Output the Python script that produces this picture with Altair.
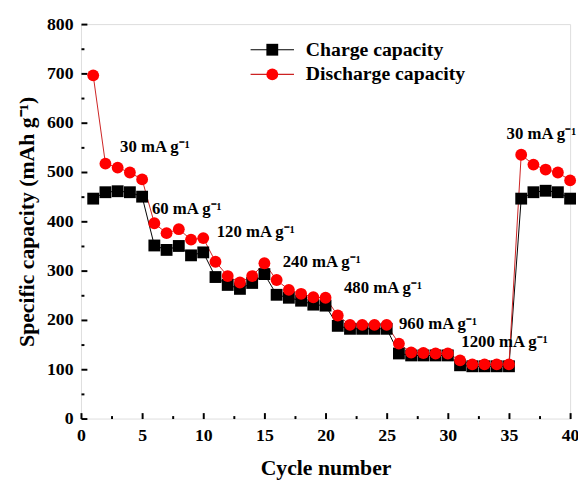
import altair as alt
import pandas as pd

cycles = list(range(1, 41))
charge = [446, 459, 461, 459, 450, 351, 342, 350, 331, 337,
          287, 271, 263, 275, 293, 251, 245, 239, 231, 229,
          188, 182, 182, 182, 182, 132, 128, 128, 128, 128,
          108, 106, 106, 106, 106, 446, 459, 462, 459, 446]
discharge = [696, 517, 509, 499, 485, 396, 376, 384, 363, 366,
             318, 289, 276, 289, 315, 281, 261, 253, 246, 245,
             209, 190, 190, 190, 190, 152, 134, 133, 132, 132,
             118, 110, 110, 110, 110, 535, 515, 505, 499, 483]
series_names = ["Charge capacity", "Discharge capacity"]

ann_text = ["30 mA g\u207b\u00b9", "60 mA g\u207b\u00b9", "120 mA g\u207b\u00b9",
            "240 mA g\u207b\u00b9", "480 mA g\u207b\u00b9", "960 mA g\u207b\u00b9",
            "1200 mA g\u207b\u00b9", "30 mA g\u207b\u00b9"]
ann_x = [3.2, 5.8, 11.1, 16.5, 21.5, 26.0, 31.1, 34.8]
ann_y = [551, 425, 378, 318, 265, 191, 155, 577]

x_major = [0, 5, 10, 15, 20, 25, 30, 35, 40]
x_minor = [2.5, 7.5, 12.5, 17.5, 22.5, 27.5, 32.5, 37.5]
y_major = [0, 100, 200, 300, 400, 500, 600, 700, 800]
y_minor = [50, 150, 250, 350, 450, 550, 650, 750]

rows = []
for c, v in zip(cycles, charge):
    rows.append({"cycle": c, "value": v, "series": series_names[0], "series2": series_names[0]})
for c, v in zip(cycles, discharge):
    rows.append({"cycle": c, "value": v, "series": series_names[1], "series2": series_names[1]})
df = pd.DataFrame(rows)
df["order"] = range(len(df))

ann = pd.DataFrame({"label": ann_text, "x": ann_x, "y": ann_y})

FONT = "Liberation Serif"
xscale = alt.Scale(domain=[0, 40], nice=False, zero=False)
yscale = alt.Scale(domain=[0, 800], nice=False)

LEG = dict(orient="none", legendX=184, legendY=16, title=None, symbolSize=144,
           labelFont=FONT, labelFontSize=20, labelFontWeight="bold",
           labelOffset=24, rowPadding=5, padding=0, labelLimit=400)

lines = alt.Chart(df).mark_line(strokeWidth=1).encode(
    x=alt.X("cycle:Q", scale=xscale,
            axis=alt.Axis(values=x_major, tickSize=6, offset=-6, domain=False,
                          tickWidth=2, tickColor="black", labelPadding=8,
                          labelFont=FONT, labelFontSize=18, labelFontWeight="bold",
                          labelColor="black", title="Cycle number", titleFont=FONT,
                          titleFontSize=22, titleFontWeight="bold", titleColor="black",
                          titlePadding=14, grid=False, orient="bottom", labelFlush=False)),
    y=alt.Y("value:Q", scale=yscale,
            axis=alt.Axis(values=y_major, tickSize=6, offset=-6, domain=False,
                          tickWidth=2, tickColor="black", labelPadding=8,
                          labelFont=FONT, labelFontSize=18, labelFontWeight="bold",
                          labelColor="black", title="Specific capacity (mAh g\u207b\u00b9)",
                          titleFont=FONT, titleFontSize=22, titleFontWeight="bold",
                          titleColor="black", titlePadding=8, grid=False, orient="left",
                          labelFlush=False)),
    color=alt.Color("series:N",
                    scale=alt.Scale(domain=series_names, range=["#000000", "#cc2222"]),
                    legend=alt.Legend(symbolType="M-3.667,0L3.667,0", symbolStrokeWidth=1.2,
                                      labelColor="black", **LEG)),
)

points = alt.Chart(df).mark_point(filled=True, size=144, opacity=1).encode(
    x=alt.X("cycle:Q", scale=xscale,
            axis=alt.Axis(values=x_minor, tickSize=3, offset=-3, domain=False,
                          tickWidth=2, tickColor="black", labels=False, title=None,
                          grid=False, orient="bottom")),
    y=alt.Y("value:Q", scale=yscale,
            axis=alt.Axis(values=y_minor, tickSize=3, offset=-3, domain=False,
                          tickWidth=2, tickColor="black", labels=False, title=None,
                          grid=False, orient="left")),
    fill=alt.Fill("series2:N",
                  scale=alt.Scale(range=["#000000", "#ff0000"]),
                  legend=alt.Legend(labelColor="transparent", **LEG)),
    shape=alt.Shape("series2:N",
                    scale=alt.Scale(range=["square", "circle"]),
                    legend=alt.Legend(labelColor="transparent", **LEG)),
    order="order:Q",
)

texts = alt.Chart(ann).mark_text(align="left", baseline="middle", font=FONT,
                                 fontSize=17, fontWeight="bold", color="black").encode(
    x=alt.X("x:Q", scale=xscale, axis=None),
    y=alt.Y("y:Q", scale=yscale, axis=None),
    text="label:N",
)

chart = alt.layer(lines, points, texts).resolve_axis(
    x="independent", y="independent"
).properties(
    width=496, height=400,
    autosize=alt.AutoSizeParams(type="none"),
    padding={"left": 74, "top": 13, "right": 8, "bottom": 59},
).configure_view(stroke="black", strokeWidth=2).configure(background="white")

chart.save("out.html", embed_options={"renderer": "svg", "actions": False})
